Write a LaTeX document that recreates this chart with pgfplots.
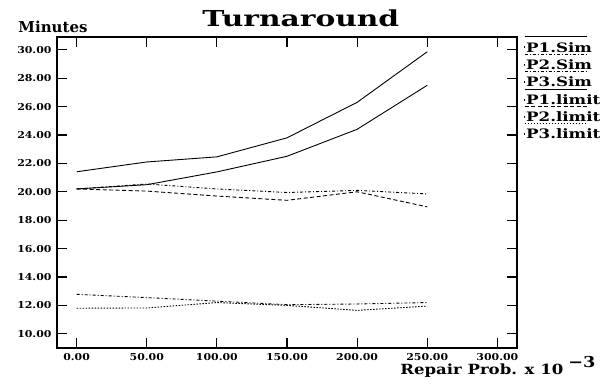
\documentclass[border=0pt]{standalone}
\usepackage{fontspec}
\setmainfont{DejaVu Serif}
\usepackage{pgfplots}
\pgfplotsset{compat=1.18}
\begin{document}
\begin{tikzpicture}
\begin{axis}[
  at={(0,0)}, anchor=south west,
  scale only axis, width=460pt, height=311pt,
  xmin=-14, xmax=314, ymin=9.0, ymax=30.9,
  xtick={0,50,100,150,200,250,300},
  ytick={10,12,14,16,18,20,22,24,26,28,30},
  tick align=inside, major tick length=10pt,
  tick style={line width=1.2pt, black},
  axis line style={line width=1.3pt},
  xticklabel style={yshift=-2pt},
  yticklabel style={xshift=-2pt},
  /pgf/number format/.cd, fixed, fixed zerofill, precision=2, assume math mode=true,
  /pgfplots/.cd,
  tick label style={font=\bfseries\fontsize{9.5}{9.5}\selectfont\addfontfeature{FakeStretch=1.15}},
  title={Turnaround},
  title style={font=\bfseries\fontsize{22}{22}\selectfont\addfontfeature{FakeStretch=1.35}, at={(rel axis cs:0.53,1)}, anchor=base, yshift=4pt},
  ylabel={Minutes},
  ylabel style={font=\bfseries\fontsize{15}{15}\selectfont, rotate=-90, at={(rel axis cs:0,1)}, anchor=base, yshift=4pt, xshift=-4pt},
  xlabel={Repair Prob. x 10\raisebox{7pt}{\hspace{5pt}{\fontsize{15}{15}\selectfont −3}}},
  xlabel style={font=\bfseries\fontsize{14}{14}\selectfont\addfontfeature{FakeStretch=1.18}, at={(rel axis cs:1,0)}, anchor=base east, xshift=82pt, yshift=-26pt},
  legend style={at={(rel axis cs:1,1)}, anchor=north west, xshift=7pt, yshift=-4pt, draw=none, fill=none,
    font=\bfseries\fontsize{13}{13}\selectfont\addfontfeature{FakeStretch=1.28}, row sep=4pt, inner sep=0pt,
    nodes={inner sep=1pt}},
  legend cell align=left,
  legend image code/.code={\draw[#1,overlay] (0pt,11pt) -- (62pt,11pt); \path (0,0) rectangle (0.1pt,1pt);},
]
\addplot[black, line width=0.9pt] coordinates {(0,21.41) (50,22.1) (100,22.46) (150,23.8) (200,26.3) (250,29.86)};
\addlegendentry{P1.Sim}
\addplot[black, line width=0.9pt, dash pattern=on 3pt off 2pt on 1pt off 2pt] coordinates {(0,20.2) (50,20.55) (100,20.2) (150,19.95) (200,20.1) (250,19.85)};
\addlegendentry{P2.Sim}
\addplot[black, line width=0.9pt, dash pattern=on 3pt off 2pt on 1pt off 2pt] coordinates {(0,12.78) (50,12.55) (100,12.3) (150,12.05) (200,12.1) (250,12.2)};
\addlegendentry{P3.Sim}
\addplot[black, line width=0.9pt] coordinates {(0,20.2) (50,20.5) (100,21.4) (150,22.5) (200,24.4) (250,27.5)};
\addlegendentry{P1.limit}
\addplot[black, line width=0.9pt, dash pattern=on 4pt off 2.5pt] coordinates {(0,20.2) (50,20.05) (100,19.7) (150,19.4) (200,20.0) (250,18.94)};
\addlegendentry{P2.limit}
\addplot[black, line width=0.9pt, dash pattern=on 1.5pt off 1.5pt] coordinates {(0,11.8) (50,11.82) (100,12.2) (150,12.0) (200,11.65) (250,11.95)};
\addlegendentry{P3.limit}
\end{axis}
\pgfresetboundingbox
\path[use as bounding box] (-57pt,-35pt) rectangle (552pt,348pt);
\end{tikzpicture}
\end{document}
